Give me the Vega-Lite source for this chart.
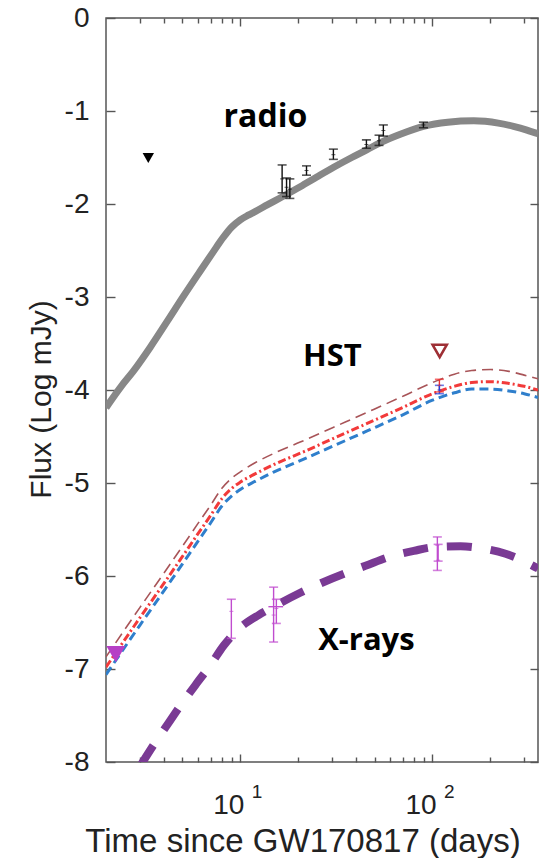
{
  "$schema": "https://vega.github.io/schema/vega-lite/v6.json",
  "width": 432,
  "height": 744,
  "autosize": "none",
  "padding": {"left": 106, "top": 18, "right": 6, "bottom": 96},
  "background": "white",
  "config": {
    "view": {"stroke": "#555555", "strokeWidth": 1.5},
    "axis": {
      "grid": false,
      "domain": false,
      "tickColor": "#555555",
      "tickWidth": 1.4,
      "labelFont": "Liberation Sans",
      "labelFontSize": 28,
      "labelColor": "#222222",
      "titleFont": "Liberation Sans",
      "titleFontWeight": "normal",
      "titleColor": "#222222"
    }
  },
  "datasets": {
    "curves": [
      {"s": "radio", "t": 2, "f": -4.19},
      {"s": "radio", "t": 2.4, "f": -3.96},
      {"s": "radio", "t": 2.77, "f": -3.8},
      {"s": "radio", "t": 3.4, "f": -3.54},
      {"s": "radio", "t": 4.17, "f": -3.26},
      {"s": "radio", "t": 5.1, "f": -2.98},
      {"s": "radio", "t": 6.19, "f": -2.72},
      {"s": "radio", "t": 7.2, "f": -2.52},
      {"s": "radio", "t": 8.15, "f": -2.36},
      {"s": "radio", "t": 9, "f": -2.25},
      {"s": "radio", "t": 10, "f": -2.17},
      {"s": "radio", "t": 11, "f": -2.12},
      {"s": "radio", "t": 12, "f": -2.08},
      {"s": "radio", "t": 13.8, "f": -2.01},
      {"s": "radio", "t": 16.1, "f": -1.935},
      {"s": "radio", "t": 20.5, "f": -1.815},
      {"s": "radio", "t": 25, "f": -1.71},
      {"s": "radio", "t": 30.6, "f": -1.605},
      {"s": "radio", "t": 38, "f": -1.5},
      {"s": "radio", "t": 45.7, "f": -1.415},
      {"s": "radio", "t": 53.6, "f": -1.34},
      {"s": "radio", "t": 68, "f": -1.25},
      {"s": "radio", "t": 89.7, "f": -1.165},
      {"s": "radio", "t": 120, "f": -1.12},
      {"s": "radio", "t": 164, "f": -1.105},
      {"s": "radio", "t": 220, "f": -1.13},
      {"s": "radio", "t": 264, "f": -1.165},
      {"s": "radio", "t": 310, "f": -1.205},
      {"s": "radio", "t": 354, "f": -1.245},

      {"s": "red", "t": 2, "f": -6.98},
      {"s": "red", "t": 3, "f": -6.45},
      {"s": "red", "t": 4, "f": -6.08},
      {"s": "red", "t": 5, "f": -5.79},
      {"s": "red", "t": 6, "f": -5.55},
      {"s": "red", "t": 7, "f": -5.35},
      {"s": "red", "t": 8, "f": -5.17},
      {"s": "red", "t": 9, "f": -5.06},
      {"s": "red", "t": 10, "f": -4.99},
      {"s": "red", "t": 12, "f": -4.9},
      {"s": "red", "t": 15, "f": -4.8},
      {"s": "red", "t": 20.5, "f": -4.68},
      {"s": "red", "t": 30.6, "f": -4.52},
      {"s": "red", "t": 45.7, "f": -4.36},
      {"s": "red", "t": 68, "f": -4.2},
      {"s": "red", "t": 100, "f": -4.04},
      {"s": "red", "t": 130, "f": -3.96},
      {"s": "red", "t": 160, "f": -3.92},
      {"s": "red", "t": 200, "f": -3.91},
      {"s": "red", "t": 250, "f": -3.93},
      {"s": "red", "t": 300, "f": -3.96},
      {"s": "red", "t": 354, "f": -4.0},

      {"s": "brown", "t": 2, "f": -6.87},
      {"s": "brown", "t": 3, "f": -6.34},
      {"s": "brown", "t": 4, "f": -5.97},
      {"s": "brown", "t": 5, "f": -5.68},
      {"s": "brown", "t": 6, "f": -5.44},
      {"s": "brown", "t": 7, "f": -5.24},
      {"s": "brown", "t": 8, "f": -5.06},
      {"s": "brown", "t": 9, "f": -4.95},
      {"s": "brown", "t": 10, "f": -4.88},
      {"s": "brown", "t": 12, "f": -4.78},
      {"s": "brown", "t": 15, "f": -4.68},
      {"s": "brown", "t": 20.5, "f": -4.56},
      {"s": "brown", "t": 30.6, "f": -4.4},
      {"s": "brown", "t": 45.7, "f": -4.24},
      {"s": "brown", "t": 68, "f": -4.08},
      {"s": "brown", "t": 100, "f": -3.92},
      {"s": "brown", "t": 130, "f": -3.83},
      {"s": "brown", "t": 160, "f": -3.79},
      {"s": "brown", "t": 200, "f": -3.78},
      {"s": "brown", "t": 250, "f": -3.8},
      {"s": "brown", "t": 300, "f": -3.84},
      {"s": "brown", "t": 354, "f": -3.88},

      {"s": "blue", "t": 2, "f": -7.06},
      {"s": "blue", "t": 3, "f": -6.53},
      {"s": "blue", "t": 4, "f": -6.16},
      {"s": "blue", "t": 5, "f": -5.87},
      {"s": "blue", "t": 6, "f": -5.63},
      {"s": "blue", "t": 7, "f": -5.43},
      {"s": "blue", "t": 8, "f": -5.25},
      {"s": "blue", "t": 9, "f": -5.14},
      {"s": "blue", "t": 10, "f": -5.07},
      {"s": "blue", "t": 12, "f": -4.98},
      {"s": "blue", "t": 15, "f": -4.88},
      {"s": "blue", "t": 20.5, "f": -4.76},
      {"s": "blue", "t": 30.6, "f": -4.6},
      {"s": "blue", "t": 45.7, "f": -4.44},
      {"s": "blue", "t": 68, "f": -4.28},
      {"s": "blue", "t": 100, "f": -4.11},
      {"s": "blue", "t": 130, "f": -4.03},
      {"s": "blue", "t": 160, "f": -3.99},
      {"s": "blue", "t": 200, "f": -3.99},
      {"s": "blue", "t": 250, "f": -4.01},
      {"s": "blue", "t": 300, "f": -4.04},
      {"s": "blue", "t": 354, "f": -4.08},

      {"s": "xray", "t": 3.0, "f": -8.05},
      {"s": "xray", "t": 3.53, "f": -7.82},
      {"s": "xray", "t": 4.23, "f": -7.58},
      {"s": "xray", "t": 4.97, "f": -7.37},
      {"s": "xray", "t": 5.95, "f": -7.15},
      {"s": "xray", "t": 6.98, "f": -6.96},
      {"s": "xray", "t": 8.18, "f": -6.75},
      {"s": "xray", "t": 9.8, "f": -6.57},
      {"s": "xray", "t": 12.45, "f": -6.42},
      {"s": "xray", "t": 14.9, "f": -6.33},
      {"s": "xray", "t": 20.5, "f": -6.18},
      {"s": "xray", "t": 26.1, "f": -6.08},
      {"s": "xray", "t": 35.2, "f": -5.97},
      {"s": "xray", "t": 44.8, "f": -5.89},
      {"s": "xray", "t": 60.4, "f": -5.79},
      {"s": "xray", "t": 79.9, "f": -5.73},
      {"s": "xray", "t": 101, "f": -5.69},
      {"s": "xray", "t": 140, "f": -5.68},
      {"s": "xray", "t": 178, "f": -5.7},
      {"s": "xray", "t": 240, "f": -5.76},
      {"s": "xray", "t": 312, "f": -5.86},
      {"s": "xray", "t": 354, "f": -5.92}
    ],
    "bars": [
      {"g": "radio", "t": 16.5, "lo": -1.88, "hi": -1.58, "c": -1.73},
      {"g": "radio", "t": 17.4, "lo": -1.92, "hi": -1.72, "c": -1.82},
      {"g": "radio", "t": 18.1, "lo": -1.94, "hi": -1.73, "c": -1.84},
      {"g": "radio", "t": 22.1, "lo": -1.69, "hi": -1.59, "c": -1.64},
      {"g": "radio", "t": 30.5, "lo": -1.52, "hi": -1.41, "c": -1.47},
      {"g": "radio", "t": 45.3, "lo": -1.4, "hi": -1.31, "c": -1.36},
      {"g": "radio", "t": 52.7, "lo": -1.37, "hi": -1.26, "c": -1.32},
      {"g": "radio", "t": 55.5, "lo": -1.27, "hi": -1.15, "c": -1.21},
      {"g": "radio", "t": 89.7, "lo": -1.18, "hi": -1.12, "c": -1.15},
      {"g": "xray", "t": 8.98, "lo": -6.67, "hi": -6.25, "c": -6.38},
      {"g": "xray", "t": 14.9, "lo": -6.71, "hi": -6.12, "c": -6.42},
      {"g": "xray", "t": 15.4, "lo": -6.51, "hi": -6.25, "c": -6.35},
      {"g": "xray", "t": 106, "lo": -5.94, "hi": -5.58, "c": -5.67},
      {"g": "xray", "t": 107, "lo": -5.84, "hi": -5.66, "c": -5.83},
      {"g": "hst_red", "t": 108.6, "lo": -4.02, "hi": -3.885, "c": -3.95},
      {"g": "hst_blue", "t": 108.6, "lo": -4.04, "hi": -3.95, "c": -4.0}
    ],
    "xbars": [
      {"g": "xray", "t1": 14.0, "t2": 16.7, "f": -6.33}
    ],
    "limits": [
      {"g": "radio", "t": 3.32, "f": -1.505},
      {"g": "xray", "t": 2.25, "f": -6.84},
      {"g": "hst", "t": 109, "f": -3.58}
    ],
    "notes": [
      {"label": "radio", "t": 13.5, "f": -1.172, "fs": 32},
      {"label": "HST", "t": 30.1, "f": -3.742, "fs": 31},
      {"label": "X-rays", "t": 45.3, "f": -6.796, "fs": 31}
    ]
  },
  "resolve": {"axis": {"x": "independent", "y": "independent"}},
  "layer": [
    {
      "data": {"name": "curves"},
      "transform": [{"filter": "datum.s == 'radio'"}],
      "mark": {"type": "line", "color": "#878787", "strokeWidth": 7, "interpolate": "monotone", "clip": true},
      "encoding": {
        "x": {"field": "t", "type": "quantitative",
          "scale": {"type": "log", "domain": [2, 354], "nice": false},
          "axis": {"orient": "bottom", "values": [10, 100], "offset": -8, "tickSize": 8,
            "labelExpr": "'10'", "labelOffset": -12, "labelPadding": 51, "labelBaseline": "alphabetic", "labelAlign": "center",
            "title": "Time since GW170817 (days)", "titleFont": "Liberation Sans", "titleFontSize": 33, "titleX": 196.5, "titleY": 97,
            "titleBaseline": "alphabetic", "titleAlign": "center"}},
        "y": {"field": "f", "type": "quantitative",
          "scale": {"domain": [-8, 0], "nice": false, "zero": false},
          "axis": {"orient": "left", "values": [0, -1, -2, -3, -4, -5, -6, -7, -8], "offset": -9, "tickSize": 9,
            "labelExpr": "'' + datum.value", "labelPadding": 17,
            "title": "Flux (Log mJy)", "titleFont": "Liberation Sans", "titleFontSize": 30, "titleX": -65, "titleY": 381, "titleAngle": -90,
            "titleBaseline": "alphabetic", "titleAlign": "center"}}
      }
    },
    {
      "data": {"name": "curves"},
      "transform": [{"filter": "datum.s == 'brown'"}],
      "mark": {"type": "line", "color": "#a85458", "strokeWidth": 1.6, "strokeDash": [11, 6], "interpolate": "monotone", "clip": true},
      "encoding": {
        "x": {"field": "t", "type": "quantitative", "scale": {"type": "log", "domain": [2, 354], "nice": false},
          "axis": {"orient": "top", "values": [10, 100], "offset": -8, "tickSize": 8, "labels": false, "title": null}},
        "y": {"field": "f", "type": "quantitative", "scale": {"domain": [-8, 0], "nice": false, "zero": false},
          "axis": {"orient": "right", "values": [0, -1, -2, -3, -4, -5, -6, -7, -8], "offset": -8, "tickSize": 8, "labels": false, "title": null}}
      }
    },
    {
      "data": {"name": "curves"},
      "transform": [{"filter": "datum.s == 'blue'"}],
      "mark": {"type": "line", "color": "#2f7fcc", "strokeWidth": 3, "strokeDash": [9, 5], "interpolate": "monotone", "clip": true},
      "encoding": {
        "x": {"field": "t", "type": "quantitative", "scale": {"type": "log", "domain": [2, 354], "nice": false},
          "axis": {"orient": "bottom", "values": [3, 4, 5, 6, 7, 8, 9, 20, 30, 40, 50, 60, 70, 80, 90, 200, 300], "offset": -5, "tickSize": 5, "labels": false, "title": null}},
        "y": {"field": "f", "type": "quantitative", "scale": {"domain": [-8, 0], "nice": false, "zero": false}, "axis": null}
      }
    },
    {
      "data": {"name": "curves"},
      "transform": [{"filter": "datum.s == 'red'"}],
      "mark": {"type": "line", "color": "#f23a3a", "strokeWidth": 3, "strokeDash": [8, 3, 2, 3], "interpolate": "monotone", "clip": true},
      "encoding": {
        "x": {"field": "t", "type": "quantitative", "scale": {"type": "log", "domain": [2, 354], "nice": false},
          "axis": {"orient": "top", "values": [3, 4, 5, 6, 7, 8, 9, 20, 30, 40, 50, 60, 70, 80, 90, 200, 300], "offset": -5, "tickSize": 5, "labels": false, "title": null}},
        "y": {"field": "f", "type": "quantitative", "scale": {"domain": [-8, 0], "nice": false, "zero": false}, "axis": null}
      }
    },
    {
      "data": {"name": "curves"},
      "transform": [{"filter": "datum.s == 'xray'"}],
      "mark": {"type": "line", "color": "#7a3a94", "strokeWidth": 8, "strokeDash": [25, 19], "interpolate": "monotone", "clip": true},
      "encoding": {
        "x": {"field": "t", "type": "quantitative", "scale": {"type": "log", "domain": [2, 354], "nice": false},
          "axis": {"orient": "bottom", "values": [10, 100], "ticks": false, "domain": false,
            "labelExpr": "datum.value == 10 ? '1' : '2'", "labelFontSize": 19, "labelAlign": "left",
            "labelOffset": 11, "labelPadding": 35, "labelBaseline": "alphabetic", "title": null}},
        "y": {"field": "f", "type": "quantitative", "scale": {"domain": [-8, 0], "nice": false, "zero": false}, "axis": null}
      }
    },
    {
      "data": {"name": "bars"},
      "mark": {"type": "rule", "strokeWidth": 1.4},
      "encoding": {
        "x": {"field": "t", "type": "quantitative", "scale": {"type": "log", "domain": [2, 354], "nice": false}, "axis": null},
        "y": {"field": "lo", "type": "quantitative", "scale": {"domain": [-8, 0], "nice": false, "zero": false}, "axis": null},
        "y2": {"field": "hi"},
        "color": {"field": "g", "type": "nominal", "legend": null,
          "scale": {"domain": ["radio", "xray", "hst_red", "hst_blue"], "range": ["#111111", "#c04ccf", "#f03030", "#2040e0"]}}
      }
    },
    {
      "data": {"name": "bars"},
      "mark": {"type": "tick", "orient": "horizontal", "size": 9, "thickness": 1.6},
      "encoding": {
        "x": {"field": "t", "type": "quantitative", "scale": {"type": "log", "domain": [2, 354], "nice": false}, "axis": null},
        "y": {"field": "lo", "type": "quantitative", "scale": {"domain": [-8, 0], "nice": false, "zero": false}, "axis": null},
        "color": {"field": "g", "type": "nominal", "legend": null}
      }
    },
    {
      "data": {"name": "bars"},
      "mark": {"type": "tick", "orient": "horizontal", "size": 9, "thickness": 1.6},
      "encoding": {
        "x": {"field": "t", "type": "quantitative", "scale": {"type": "log", "domain": [2, 354], "nice": false}, "axis": null},
        "y": {"field": "hi", "type": "quantitative", "scale": {"domain": [-8, 0], "nice": false, "zero": false}, "axis": null},
        "color": {"field": "g", "type": "nominal", "legend": null}
      }
    },
    {
      "data": {"name": "bars"},
      "mark": {"type": "tick", "orient": "horizontal", "size": 4, "thickness": 1},
      "encoding": {
        "x": {"field": "t", "type": "quantitative", "scale": {"type": "log", "domain": [2, 354], "nice": false}, "axis": null},
        "y": {"field": "c", "type": "quantitative", "scale": {"domain": [-8, 0], "nice": false, "zero": false}, "axis": null},
        "color": {"field": "g", "type": "nominal", "legend": null}
      }
    },
    {
      "data": {"name": "xbars"},
      "mark": {"type": "rule", "strokeWidth": 1.4, "color": "#c04ccf"},
      "encoding": {
        "x": {"field": "t1", "type": "quantitative", "scale": {"type": "log", "domain": [2, 354], "nice": false}, "axis": null},
        "x2": {"field": "t2"},
        "y": {"field": "f", "type": "quantitative", "scale": {"domain": [-8, 0], "nice": false, "zero": false}, "axis": null}
      }
    },
    {
      "data": {"name": "limits"},
      "transform": [{"filter": "datum.g == 'radio'"}],
      "mark": {"type": "point", "shape": "triangle-down", "filled": true, "color": "#000000", "size": 130, "opacity": 1},
      "encoding": {
        "x": {"field": "t", "type": "quantitative", "scale": {"type": "log", "domain": [2, 354], "nice": false}, "axis": null},
        "y": {"field": "f", "type": "quantitative", "scale": {"domain": [-8, 0], "nice": false, "zero": false}, "axis": null}
      }
    },
    {
      "data": {"name": "limits"},
      "transform": [{"filter": "datum.g == 'xray'"}],
      "mark": {"type": "point", "shape": "triangle-down", "filled": true, "color": "#b63fc6", "size": 360, "opacity": 1},
      "encoding": {
        "x": {"field": "t", "type": "quantitative", "scale": {"type": "log", "domain": [2, 354], "nice": false}, "axis": null},
        "y": {"field": "f", "type": "quantitative", "scale": {"domain": [-8, 0], "nice": false, "zero": false}, "axis": null}
      }
    },
    {
      "data": {"name": "limits"},
      "transform": [{"filter": "datum.g == 'hst'"}],
      "mark": {"type": "point", "shape": "triangle-down", "filled": false, "stroke": "#9e2f35", "strokeWidth": 2.6, "size": 200, "opacity": 1},
      "encoding": {
        "x": {"field": "t", "type": "quantitative", "scale": {"type": "log", "domain": [2, 354], "nice": false}, "axis": null},
        "y": {"field": "f", "type": "quantitative", "scale": {"domain": [-8, 0], "nice": false, "zero": false}, "axis": null}
      }
    },
    {
      "data": {"name": "notes"},
      "mark": {"type": "text", "font": "Open Sans", "fontWeight": "bold", "align": "center", "baseline": "alphabetic", "color": "#000000"},
      "encoding": {
        "x": {"field": "t", "type": "quantitative", "scale": {"type": "log", "domain": [2, 354], "nice": false}, "axis": null},
        "y": {"field": "f", "type": "quantitative", "scale": {"domain": [-8, 0], "nice": false, "zero": false}, "axis": null},
        "text": {"field": "label"},
        "size": {"field": "fs", "type": "quantitative", "scale": null}
      }
    }
  ]
}
